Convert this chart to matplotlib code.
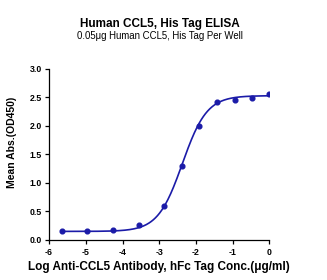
import numpy as np
import matplotlib
matplotlib.use("Agg")
import matplotlib.pyplot as plt

plt.rcParams['font.family'] = ['Liberation Sans', 'DejaVu Sans']

# Data (log10 concentration, mean OD450)
log_conc = [-5.66, -4.96, -4.26, -3.56, -2.86, -2.39, -1.91, -1.43, -0.95, -0.48, 0.0]
od450 = [0.15, 0.15, 0.17, 0.26, 0.60, 1.30, 1.99, 2.42, 2.46, 2.49, 2.56]

# 4PL fit parameters
fit_bottom = 0.15
fit_top = 2.53
fit_logec50 = -2.37
fit_hill = 1.3

title = "Human CCL5, His Tag ELISA"
subtitle = "0.05\u03bcg Human CCL5, His Tag Per Well"
xlabel = "Log Anti-CCL5 Antibody, hFc Tag Conc.(\u03bcg/ml)"
ylabel = "Mean Abs.(OD450)"
xticks = [-6, -5, -4, -3, -2, -1, 0]
yticks = [0.0, 0.5, 1.0, 1.5, 2.0, 2.5, 3.0]

color = '#1b1ba8'

fig = plt.figure(figsize=(3.27, 2.80), dpi=100)
ax = fig.add_axes([0.150, 0.143, 0.674, 0.611])

xs = np.linspace(min(log_conc), max(log_conc), 300)
ys = fit_bottom + (fit_top - fit_bottom) / (1 + 10 ** ((fit_logec50 - xs) * fit_hill))
ax.plot(xs, ys, color=color, lw=1.2)
ax.plot(log_conc, od450, 'o', color=color, ms=3.4)

ax.set_xlim(-6, 0)
ax.set_ylim(0, 3.0)
ax.set_xticks(xticks)
ax.set_xticklabels([str(t) for t in xticks])
ax.set_yticks(yticks)
ax.set_yticklabels([f"{t:.1f}" for t in yticks])
for s in ['top', 'right']:
    ax.spines[s].set_visible(False)
for s in ['left', 'bottom']:
    ax.spines[s].set_linewidth(0.9)
ax.tick_params(direction='out', length=3, width=0.9, labelsize=6.3, pad=2)
ax.tick_params(axis='x', pad=3.0)
for lbl in ax.get_xticklabels() + ax.get_yticklabels():
    lbl.set_fontweight('bold')
ax.set_xlabel(xlabel, fontsize=8.5, fontweight='bold', labelpad=2.5)
ax.set_ylabel(ylabel, fontsize=7.5, fontweight='bold')
ax.yaxis.set_label_coords(17 / 327, 1 - 142 / 280, transform=fig.transFigure)

fig.text(0.488, 0.914, title, ha='center', va='center', fontsize=8.5, fontweight='bold')
fig.text(0.488, 0.870, subtitle, ha='center', va='center', fontsize=6.9)

fig.savefig('out.png', dpi=100)
